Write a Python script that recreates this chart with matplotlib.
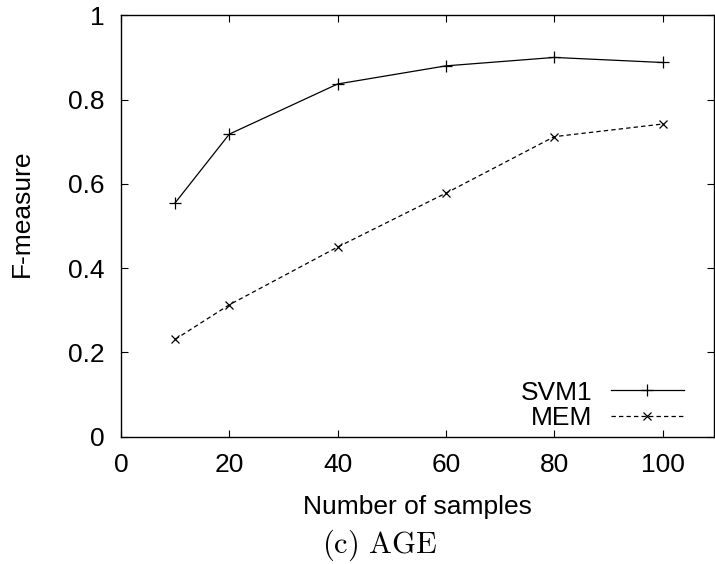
import matplotlib
matplotlib.use('Agg')
import matplotlib.pyplot as plt
from matplotlib.ticker import FuncFormatter

plt.rcParams['font.family'] = ['Liberation Sans', 'DejaVu Sans']
plt.rcParams['mathtext.fontset'] = 'cm'

# data
samples = [10, 20, 40, 60, 80, 100]
svm1 = [0.555, 0.718, 0.837, 0.880, 0.900, 0.888]
mem = [0.231, 0.313, 0.450, 0.578, 0.712, 0.742]
x_ticks = [0, 20, 40, 60, 80, 100]
y_ticks = [0, 0.2, 0.4, 0.6, 0.8, 1]

fs = 19

fig = plt.figure(figsize=(7.15, 5.64), dpi=100)
ax = fig.add_axes([121 / 715, 1 - 436.7 / 564, (714 - 121) / 715, (436.7 - 15.3) / 564])

ax.plot(samples, svm1, color='black', linewidth=0.9, marker='+',
        markersize=8, markeredgewidth=0.9, label='SVM1')
ax.plot(samples, mem, color='black', linewidth=0.9, linestyle=(0, (3.5, 2.5)),
        marker='x', markersize=6, markeredgewidth=0.9, label='MEM')

ax.set_xlim(0, 109.5)
ax.set_ylim(0, 1)
ax.set_xticks(x_ticks)
ax.set_yticks(y_ticks)
ax.yaxis.set_major_formatter(FuncFormatter(lambda v, p: '{:g}'.format(v)))
ax.tick_params(direction='in', length=5, width=0.8, top=True, right=True,
               labelsize=fs, pad=12)
for s in ax.spines.values():
    s.set_linewidth(1.0)

ax.set_xlabel('Number of samples', fontsize=fs, labelpad=13)
ax.set_ylabel('F-measure', fontsize=fs)
ax.yaxis.set_label_coords(-0.147, 0.531)

ax.legend(loc='lower right', bbox_to_anchor=(0.949, 0.016), frameon=False,
          markerfirst=False, fontsize=fs, handlelength=2.75, handletextpad=0.72,
          labelspacing=0.05, borderpad=0, borderaxespad=0)

fig.text(380 / 715, 1 - 545 / 564, r'$\mathrm{(c)\ AGE}$', fontsize=22,
         ha='center', va='center')

plt.savefig('out.png', dpi=100)
plt.close()
